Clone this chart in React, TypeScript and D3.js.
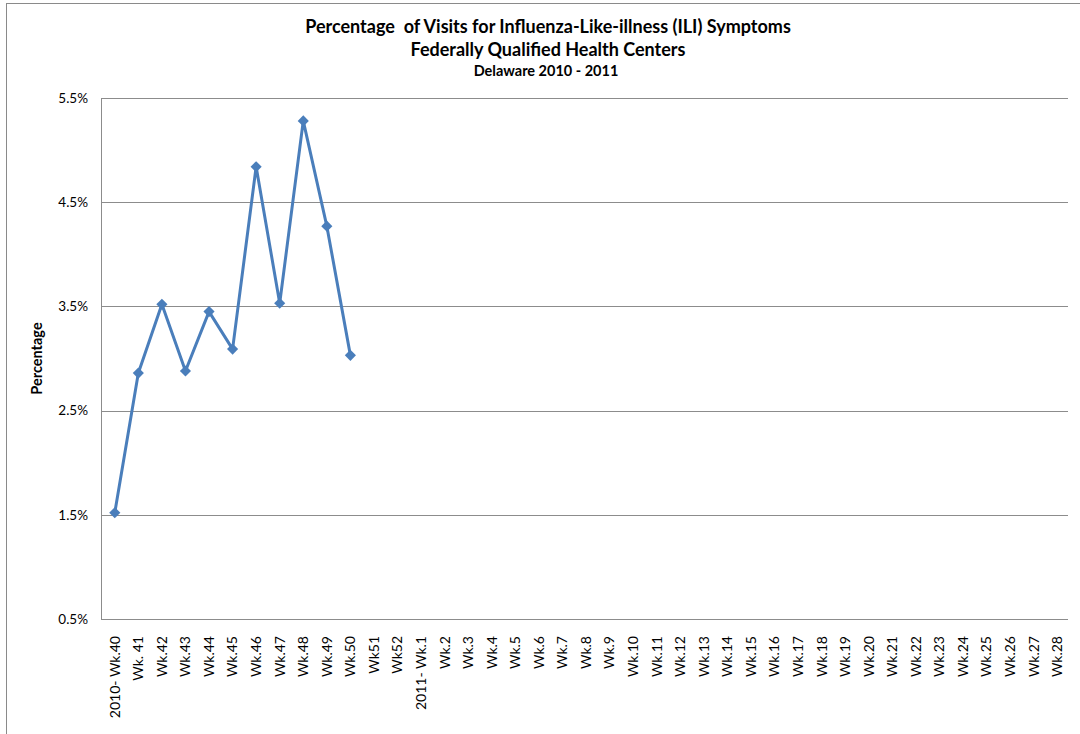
import React from "react";
import * as d3 from "d3";

const weeks: string[] = [
  "2010- Wk.40", "Wk. 41", "Wk.42", "Wk.43", "Wk.44", "Wk.45", "Wk.46", "Wk.47",
  "Wk.48", "Wk.49", "Wk.50", "Wk51", "Wk52", "2011- Wk.1", "Wk.2", "Wk.3", "Wk.4",
  "Wk.5", "Wk.6", "Wk.7", "Wk.8", "Wk.9", "Wk.10", "Wk.11", "Wk.12", "Wk.13",
  "Wk.14", "Wk.15", "Wk.16", "Wk.17", "Wk.18", "Wk.19", "Wk.20", "Wk.21", "Wk.22",
  "Wk.23", "Wk.24", "Wk.25", "Wk.26", "Wk.27", "Wk.28",
];

// only the first 11 weeks have values
const iliPercent: number[] = [1.52, 2.86, 3.52, 2.88, 3.45, 3.09, 4.84, 3.53, 5.28, 4.27, 3.03];

const yTicks: number[] = [0.5, 1.5, 2.5, 3.5, 4.5, 5.5];

const titleLines: string[] = [
  "Percentage  of Visits for Influenza-Like-illness (ILI) Symptoms",
  "Federally Qualified Health Centers",
  "Delaware 2010 - 2011",
];

const width = 1080;
const height = 734;
const plot = { left: 101, right: 1068, top: 98, bottom: 619 };
const font = "Lato, 'Open Sans', sans-serif";
const blue = "#4a7ebb";
const grid = "#8c8c8c";

const App: React.FC = () => {
  const x = d3
    .scaleBand<string>()
    .domain(weeks)
    .range([plot.left + 2, plot.right + 1])
    .paddingInner(0)
    .paddingOuter(0);
  const cx = (w: string) => (x(w) ?? 0) + x.bandwidth() / 2;

  const y = d3.scaleLinear().domain([0.5, 5.5]).range([plot.bottom, plot.top]);

  const line = d3
    .line<number>()
    .x((_, i) => cx(weeks[i]))
    .y((d) => y(d));

  const diamond = d3.symbol().type(d3.symbolSquare).size(62)();

  return (
    <div style={{ position: "absolute", left: 0, top: 0 }}>
      <svg width={width} height={height} style={{ display: "block", background: "#fff" }}>
        {/* chart frame */}
        <rect x={6.5} y={3.5} width={1200} height={900} fill="none" stroke="#8a8a8a" strokeWidth={1} />

        {/* titles */}
        <g fontFamily={font} fontWeight="bold" textAnchor="middle" fill="#000">
          <text x={548} y={33} fontSize={18} xmlSpace="preserve" style={{ whiteSpace: "pre" }}>{titleLines[0]}</text>
          <text x={548} y={56} fontSize={18}>{titleLines[1]}</text>
          <text x={546} y={76} fontSize={14.5}>{titleLines[2]}</text>
        </g>

        {/* gridlines */}
        {yTicks.map((t) => (
          <line key={t} x1={plot.left} x2={plot.right} y1={Math.round(y(t)) + 0.5} y2={Math.round(y(t)) + 0.5} stroke={grid} strokeWidth={1} />
        ))}
        <line x1={plot.left + 0.5} x2={plot.left + 0.5} y1={plot.top} y2={plot.bottom + 1} stroke={grid} strokeWidth={1} />

        {/* y tick labels */}
        {yTicks.map((t) => (
          <text key={t} x={88} y={y(t)} dy="0.35em" textAnchor="end" fontFamily={font} fontSize={13.5} fill="#000">
            {t.toFixed(1)}%
          </text>
        ))}

        {/* y axis title */}
        <text
          transform={`translate(37,${(plot.top + plot.bottom) / 2}) rotate(-90)`}
          dy="0.35em"
          textAnchor="middle"
          fontFamily={font}
          fontWeight="bold"
          fontSize={14.5}
        >
          Percentage
        </text>

        {/* x tick labels */}
        {weeks.map((w) => (
          <text
            key={w}
            transform={`translate(${cx(w)},${plot.bottom + 17}) rotate(-90)`}
            dy="0.35em"
            textAnchor="end"
            fontFamily={font}
            fontSize={14}
            fill="#000"
          >
            {w}
          </text>
        ))}

        {/* series */}
        <path d={line(iliPercent) ?? ""} fill="none" stroke={blue} strokeWidth={3} strokeLinejoin="round" />
        {iliPercent.map((v, i) => (
          <path
            key={i}
            d={diamond ?? ""}
            transform={`translate(${cx(weeks[i])},${y(v)}) rotate(45)`}
            fill={blue}
          />
        ))}
      </svg>
    </div>
  );
};

export default App;
